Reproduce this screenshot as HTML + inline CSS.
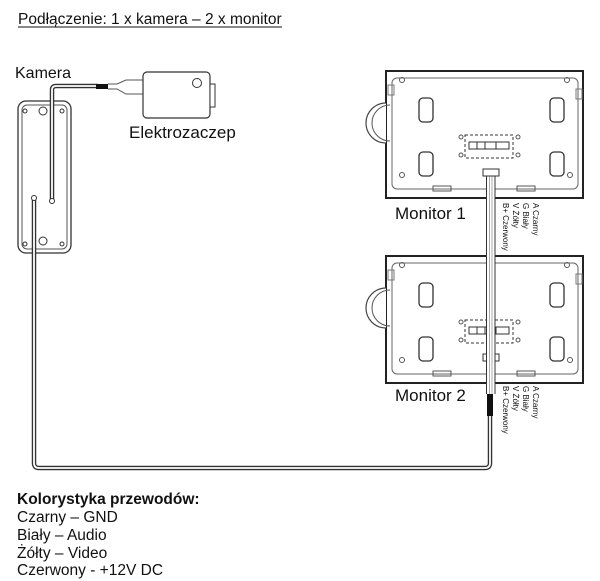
<!DOCTYPE html>
<html><head><meta charset="utf-8"><style>
html,body{margin:0;padding:0;background:#fff;}
svg{display:block;}
text{font-family:"Liberation Sans",sans-serif;fill:#111;}
</style></head><body>
<svg width="600" height="581" viewBox="0 0 600 581" xmlns="http://www.w3.org/2000/svg">
<defs>
<g id="mon">
  <rect x="0" y="0" width="197" height="127" fill="#fff" stroke="#222" stroke-width="2"/>
  <path d="M0 32 A20 20 0 0 0 0 72" fill="#fff" stroke="#444" stroke-width="1.2"/>
  <path d="M4 34 A17 17 0 0 0 4 70" fill="none" stroke="#555" stroke-width="1"/>
  <rect x="6" y="7" width="186" height="111" rx="5" fill="none" stroke="#666" stroke-width="1"/>
  <circle cx="16" cy="9" r="2.5" fill="none" stroke="#555"/>
  <circle cx="181" cy="9" r="2.5" fill="none" stroke="#555"/>
  <circle cx="16" cy="104" r="2.5" fill="none" stroke="#555"/>
  <circle cx="184" cy="104" r="2.5" fill="none" stroke="#555"/>
  <rect x="2" y="14" width="6" height="10" fill="none" stroke="#777" stroke-width="1"/>
  <rect x="190" y="18" width="6" height="10" fill="none" stroke="#777" stroke-width="1"/>
  <rect x="33" y="27" width="14" height="24" rx="4" fill="none" stroke="#333" stroke-width="1.3"/>
  <rect x="164" y="27" width="14" height="24" rx="4" fill="none" stroke="#333" stroke-width="1.3"/>
  <rect x="33" y="81" width="14" height="24" rx="4" fill="none" stroke="#333" stroke-width="1.3"/>
  <rect x="164" y="81" width="14" height="24" rx="4" fill="none" stroke="#333" stroke-width="1.3"/>
  <rect x="79" y="64" width="48" height="23" fill="none" stroke="#333" stroke-width="1" stroke-dasharray="3,2"/>
  <rect x="83" y="71" width="40" height="7" fill="none" stroke="#333" stroke-width="1"/>
  <line x1="91" y1="71" x2="91" y2="78" stroke="#333"/><line x1="99" y1="71" x2="99" y2="78" stroke="#333"/><line x1="110" y1="71" x2="110" y2="78" stroke="#333"/>
  <circle cx="75" cy="66" r="2" fill="none" stroke="#555"/>
  <circle cx="75" cy="84" r="2" fill="none" stroke="#555"/>
  <circle cx="132" cy="66" r="2" fill="none" stroke="#555"/>
  <circle cx="132" cy="84" r="2" fill="none" stroke="#555"/>
  <rect x="47" y="115" width="18" height="5" fill="none" stroke="#555" stroke-width="1"/>
  <rect x="131" y="115" width="18" height="5" fill="none" stroke="#555" stroke-width="1"/>
  <rect x="97" y="98" width="16" height="7" fill="#fff" stroke="#333" stroke-width="1"/>
</g>
<g id="lbl">
  <text transform="translate(0,0) rotate(90)" font-size="8">B+ Czerwony</text>
  <text transform="translate(10,0) rotate(90)" font-size="8">V  Żółty</text>
  <text transform="translate(20,0) rotate(90)" font-size="8">G  Biały</text>
  <text transform="translate(30,0) rotate(90)" font-size="8">A  Czarny</text>
</g>
</defs>

<text x="18" y="24" font-size="15.5">Podłączenie: 1 x kamera – 2 x monitor</text>
<line x1="18" y1="27" x2="282" y2="27" stroke="#111" stroke-width="1"/>

<text x="15" y="78" font-size="16">Kamera</text>
<text x="129" y="138" font-size="17">Elektrozaczep</text>

<rect x="18" y="101" width="53" height="152" rx="8" fill="#fff" stroke="#333" stroke-width="1.3"/>
<rect x="22" y="105" width="45" height="144" rx="5" fill="none" stroke="#555" stroke-width="1"/>
<circle cx="43" cy="111" r="4" fill="none" stroke="#333"/>
<circle cx="43" cy="241" r="4" fill="none" stroke="#333"/>
<circle cx="25" cy="111" r="2" fill="none" stroke="#333"/><circle cx="62" cy="111" r="2" fill="none" stroke="#333"/>
<circle cx="25" cy="244" r="2" fill="none" stroke="#333"/><circle cx="62" cy="244" r="2" fill="none" stroke="#333"/>

<path d="M52 200 L52 90 Q52 86 56 86 L98 86" fill="none" stroke="#333" stroke-width="4.5"/>
<path d="M52 200 L52 90 Q52 86 56 86 L98 86" fill="none" stroke="#fff" stroke-width="1.8"/>
<circle cx="52" cy="201" r="2.5" fill="#fff" stroke="#333"/>
<rect x="96" y="84" width="12" height="5" fill="#111"/>
<path d="M108 84 L117 84 L126 80 L143 80 M108 89 L117 89 L126 94 L143 94" fill="none" stroke="#555" stroke-width="1"/>
<rect x="143" y="72" width="67" height="46" rx="4" fill="#fff" stroke="#333" stroke-width="1.2"/>
<circle cx="197" cy="83" r="4.5" fill="none" stroke="#333"/>
<rect x="210" y="84" width="5" height="23" fill="#fff" stroke="#333"/>

<path d="M34 199 L34 463 Q34 468 39 468 L485 468 Q490 468 490 463 L490 410" fill="none" stroke="#333" stroke-width="4.5"/>
<path d="M34 199 L34 463 Q34 468 39 468 L485 468 Q490 468 490 463 L490 410" fill="none" stroke="#fff" stroke-width="1.8"/>
<circle cx="34" cy="198" r="2.5" fill="#fff" stroke="#333"/>

<use href="#mon" x="386" y="71"/>
<use href="#mon" x="386" y="256"/>
<rect x="486" y="176" width="9" height="220" fill="#fff"/>
<path d="M486.5 394 L486.5 175 M495 394 L495 175" stroke="#333" stroke-width="1"/>
<path d="M489.5 394 L489.5 175 M492 394 L492 175" stroke="#888" stroke-width="0.7"/>
<rect x="487" y="394" width="6" height="22" fill="#111"/>
<rect x="483" y="169" width="16" height="7" fill="#fff" stroke="#333"/>

<text x="395" y="219" font-size="17">Monitor 1</text>
<text x="395" y="401" font-size="17">Monitor 2</text>
<use href="#lbl" x="503" y="203"/>
<use href="#lbl" x="503" y="386"/>

<text x="17" y="504" font-size="15.5" font-weight="bold">Kolorystyka przewodów:</text>
<text x="17" y="522" font-size="15.5">Czarny – GND</text>
<text x="17" y="540" font-size="15.5">Biały – Audio</text>
<text x="17" y="558" font-size="15.5">Żółty – Video</text>
<text x="17" y="575" font-size="15.5">Czerwony - +12V DC</text>
</svg>
</body></html>
